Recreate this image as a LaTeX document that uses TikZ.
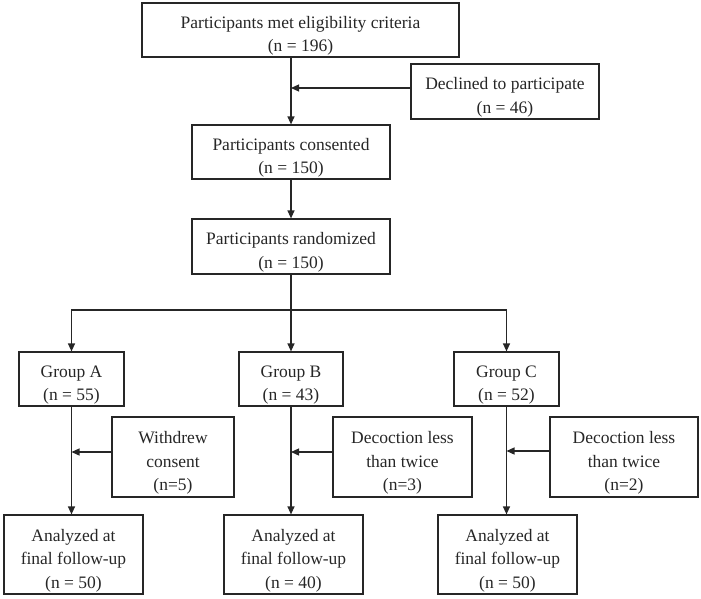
\documentclass[tikz,border=0pt]{standalone}
\usepackage{fontspec}
\setmainfont{Liberation Serif}
\usetikzlibrary{arrows.meta,calc}
\tikzset {>={Triangle[length=8pt,width=7pt]}}
\tikzset{box/.style={draw,align=center,inner sep=0pt,font=\fontsize{17.5}{23.5}\selectfont}}
\newcommand{\lowr}{\rule{0pt}{24pt}}

\begin{document}
\begin{tikzpicture}[x=1pt,y=-1pt,line width=1.2pt,color=black!85]
\useasboundingbox (0,0) rectangle (701,598);
\node[box,minimum width=317,minimum height=54] (elig) at (300.5,30) {\lowr Participants met eligibility criteria\\(n = 196)};
\node[box,minimum width=188,minimum height=55] (declined) at (505,91.5) {\lowr Declined to participate\\(n = 46)};
\node[box,minimum width=198,minimum height=54] (consent) at (291,152) {\lowr Participants consented\\(n = 150)};
\node[box,minimum width=198,minimum height=55] (random) at (291,246.5) {\lowr Participants randomized\\(n = 150)};

\node[box,minimum width=105,minimum height=54] (grpA) at (71.5,379) {\lowr Group A\\(n = 55)};
\node[box,minimum width=104,minimum height=54] (grpB) at (291,379) {\lowr Group B\\(n = 43)};
\node[box,minimum width=105,minimum height=54] (grpC) at (506.5,379) {\lowr Group C\\(n = 52)};

\node[box,minimum width=122,minimum height=80] (wdA) at (173,457) {\lowr Withdrew\\consent\\(n=5)};
\node[box,minimum width=139,minimum height=80] (decB) at (402.5,457) {\lowr Decoction less\\than twice\\(n=3)};
\node[box,minimum width=148,minimum height=80] (decC) at (624,457) {\lowr Decoction less\\than twice\\(n=2)};

\node[box,minimum width=139,minimum height=79] (anaA) at (73.5,554.5) {\lowr Analyzed at\\final follow-up\\(n = 50)};
\node[box,minimum width=139,minimum height=79] (anaB) at (293.5,554.5) {\lowr Analyzed at\\final follow-up\\(n = 40)};
\node[box,minimum width=139,minimum height=79] (anaC) at (507.5,554.5) {\lowr Analyzed at\\final follow-up\\(n = 50)};

\draw[->] (elig.south -| consent.north) -- (consent.north);
\draw[->] ([yshift=3.5pt]declined.west) -- ([yshift=3.5pt]declined.west -| consent.north);
\draw[->] (consent.south) -- (random.north);

\coordinate (split) at (random.south |- 0,310);
\draw (random.south) -- (split);
\draw[->] (split) -| (grpA.north);
\draw[->] (split) -| (grpC.north);
\draw[->] (split) -- (grpB.north);

\draw[->] (grpA.south) -- (grpA.south |- anaA.north);
\draw[->] (grpB.south) -- (grpB.south |- anaB.north);
\draw[->] (grpC.south) -- (grpC.south |- anaC.north);
\draw[->] ([yshift=5pt]wdA.west) -- ([yshift=5pt]wdA.west -| grpA.south);
\draw[->] ([yshift=5pt]decB.west) -- ([yshift=5pt]decB.west -| grpB.south);
\draw[->] ([yshift=6pt]decC.west) -- ([yshift=6pt]decC.west -| grpC.south);
\end{tikzpicture}
\end{document}
